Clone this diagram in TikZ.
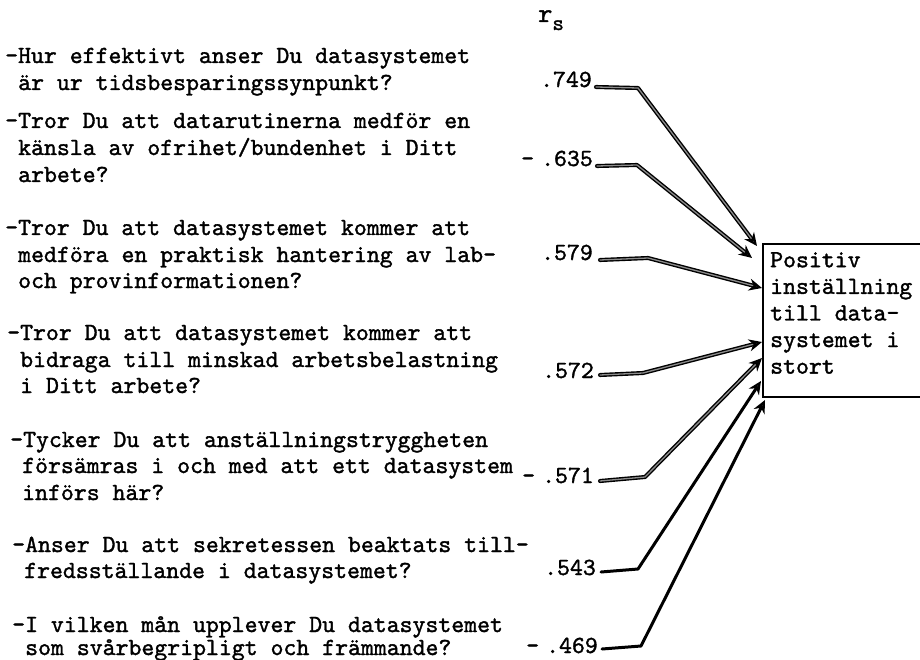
\documentclass[tikz,border=0pt]{standalone}
\usepackage{fontspec}
\newfontfamily\tw{lmmono10-regular.otf}[FakeBold=1.4]
\usetikzlibrary{arrows.meta}
\begin{document}
\begin{tikzpicture}[x=1pt,y=-1pt,
  txt/.style={anchor=base west,inner sep=0pt,font=\tw\fontsize{24.6}{26.6}\selectfont},
  val/.style={anchor=base east,inner sep=0pt,font=\tw\fontsize{24.6}{27}\selectfont},
  tip/.style={-{Stealth[open,length=13pt,width=12pt,line width=2.2pt]}},
  conn/.style={line width=1.4pt,double=black!45,double distance=1.3pt,line cap=round,line join=round,tip},
  connb/.style={line width=3pt,line cap=round,line join=round,tip},
  boxline/.style={line width=1.3pt}]
\useasboundingbox (0,0) rectangle (920,660);
% header
\node[txt] (rs) at (538,22) {\fontsize{27}{27}\selectfont\tw r\raisebox{-8pt}{\fontsize{22}{27}\selectfont s}};
% questions
\node[txt] (q1a) at (5,63) {-Hur effektivt anser Du datasystemet};
\node[txt] (q1b) at (18,90) {är ur tidsbesparingssynpunkt?};
\node[txt] (q2a) at (5,128) {-Tror Du att datarutinerna medför en};
\node[txt] (q2b) at (18,155) {känsla av ofrihet/bundenhet i Ditt};
\node[txt] (q2c) at (18,182) {arbete?};
\node[txt] (q3a) at (5,235) {-Tror Du att datasystemet kommer att};
\node[txt] (q3b) at (18,262) {medföra en praktisk hantering av lab-};
\node[txt] (q3c) at (18,288) {och provinformationen?};
\node[txt] (q4a) at (7,340) {-Tror Du att datasystemet kommer att};
\node[txt] (q4b) at (20,367) {bidraga till minskad arbetsbelastning};
\node[txt] (q4c) at (20,393) {i Ditt arbete?};
\node[txt] (q5a) at (10,447) {-Tycker Du att anställningstryggheten};
\node[txt] (q5b) at (22,473) {försämras i och med att ett datasystem};
\node[txt] (q5c) at (22,500) {införs här?};
\node[txt] (q6a) at (12,552) {-Anser Du att sekretessen beaktats till-};
\node[txt] (q6b) at (24,578) {fredsställande i datasystemet?};
\node[txt] (q7a) at (12,632) {-I vilken mån upplever Du datasystemet};
\node[txt] (q7b) at (25,655) {som svårbegripligt och främmande?};
% values
\node[val] (v1) at (592,87) {.749};
\node[val] (v2) at (593,166) {-\hspace{7pt}.635};
\node[val] (v3) at (593,260) {.579};
\node[val] (v4) at (594,378) {.572};
\node[val] (v5) at (594,483) {-\hspace{7pt}.571};
\node[val] (v6) at (596,575) {.543};
\node[val] (v7) at (598,653) {-\hspace{7pt}.469};
% target box (open on the right, running off the picture)
\node[txt,align=left,anchor=north west,inner sep=0pt] (box) at (770,252)
  {Positiv\\inställning\\till data-\\systemet i\\stort};
\draw[boxline] (930,244) -- (763,244) -- (763,397) -- (930,397);
% bends and ends
\coordinate (s1) at (596,87);  \coordinate (b1) at (638,88);  \coordinate (e1) at (757,246);
\coordinate (s2) at (597,166); \coordinate (b2) at (637,165); \coordinate (e2) at (752,258);
\coordinate (s3) at (600,260); \coordinate (b3) at (648,258); \coordinate (e3) at (762,288);
\coordinate (s4) at (600,375); \coordinate (b4) at (643,373); \coordinate (e4) at (762,342);
\coordinate (s5) at (600,481); \coordinate (b5) at (645,477); \coordinate (e5) at (762,358);
\coordinate (s6) at (601,572); \coordinate (b6) at (638,569); \coordinate (e6) at (761,381);
\coordinate (s7) at (602,649); \coordinate (b7) at (641,646); \coordinate (e7) at (765,400);
\draw[conn] (s1) -- (b1) -- (e1);
\draw[conn] (s2) -- (b2) -- (e2);
\draw[conn] (s3) -- (b3) -- (e3);
\draw[conn] (s4) -- (b4) -- (e4);
\draw[conn] (s5) -- (b5) -- (e5);
\draw[connb] (s6) -- (b6) -- (e6);
\draw[connb] (s7) -- (b7) -- (e7);
\end{tikzpicture}
\end{document}
